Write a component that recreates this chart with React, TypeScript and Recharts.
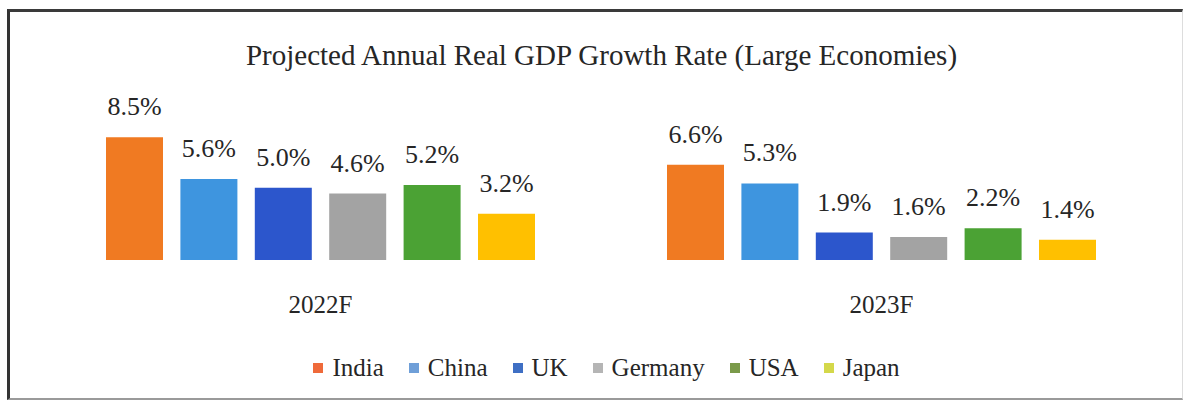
import { BarChart, Bar, XAxis, YAxis, LabelList } from "recharts";

const years = ["2022F", "2023F"];
const countries = ["India", "China", "UK", "Germany", "USA", "Japan"];
const india = [8.5, 6.6];
const china = [5.6, 5.3];
const uk = [5.0, 1.9];
const germany = [4.6, 1.6];
const usa = [5.2, 2.2];
const japan = [3.2, 1.4];

const COLORS = ["#f07a22", "#3e95df", "#2c56cc", "#a3a3a3", "#4ba234", "#ffc000"];
const LEGEND_COLORS = ["#ef6a3a", "#6f9fd8", "#3f6fc4", "#b5b5b5", "#7a9a4a", "#d4d84a"];
const FONT = "Liberation Serif, Times New Roman, serif";

const series = [india, china, uk, germany, usa, japan];
const data = years.map((y, i) => {
  const row: any = { year: y };
  countries.forEach((c, j) => { row[c] = series[j][i]; });
  return row;
});

const renderLabel = (props: any) => {
  const { x, y, width, value } = props;
  return (
    <text x={x + width / 2} y={y - 22} textAnchor="middle" fill="#262626" style={{ fontFamily: FONT, fontSize: 26 }}>
      {value.toFixed(1)}%
    </text>
  );
};

const YearTick = (props: any) => {
  const { x, y, payload } = props;
  return (
    <text x={x} y={y + 36} textAnchor="middle" dominantBaseline="central" fill="#262626" style={{ fontFamily: FONT, fontSize: 25 }}>
      {payload.value}
    </text>
  );
};

export default function App() {
  return (
    <div style={{ position: "absolute", left: 0, top: 0, width: 1183, height: 403, background: "#fff", overflow: "hidden", fontFamily: FONT }}>
      {/* frame */}
      <div style={{
        position: "absolute", left: 7, top: 9, width: 1176, height: 391, boxSizing: "border-box",
        borderTop: "3px solid #3a3a3a", borderLeft: "3px solid #333", borderBottom: "2px solid #9a9a9a", borderRight: "1px solid #ddd",
      }} />

      <div style={{
        position: "absolute", left: 0, top: 35, width: 1203, textAlign: "center",
        fontFamily: FONT, fontSize: 29, color: "#262626", lineHeight: "40px",
      }}>
        Projected Annual Real GDP Growth Rate (Large Economies)
      </div>

      <div style={{ position: "absolute", left: 0, top: 0 }}>
        <BarChart width={1183} height={403} data={data} margin={{ top: 130, right: 21, bottom: 103, left: 40 }}
          barSize={57} barGap={17.4}>
          <XAxis dataKey="year" axisLine={false} tickLine={false} height={40} tick={<YearTick />} interval={0} />
          <YAxis hide domain={[0, 9]} />
          {countries.map((c, i) => (
            <Bar key={c} dataKey={c} fill={COLORS[i]} isAnimationActive={false}>
              <LabelList dataKey={c} content={renderLabel} />
            </Bar>
          ))}
        </BarChart>
      </div>

      {/* legend */}
      <div style={{
        position: "absolute", left: 0, top: 350, width: 1213, display: "flex", justifyContent: "center",
        fontFamily: FONT, fontSize: 25, color: "#262626", lineHeight: "36px",
      }}>
        {countries.map((c, i) => (
          <div key={c} style={{ display: "flex", alignItems: "center", marginRight: i < countries.length - 1 ? 25 : 0 }}>
            <span style={{ width: 10, height: 10, background: LEGEND_COLORS[i], display: "inline-block", marginRight: 9 }} />
            <span style={{ fontFamily: FONT }}>{c}</span>
          </div>
        ))}
      </div>
    </div>
  );
}
